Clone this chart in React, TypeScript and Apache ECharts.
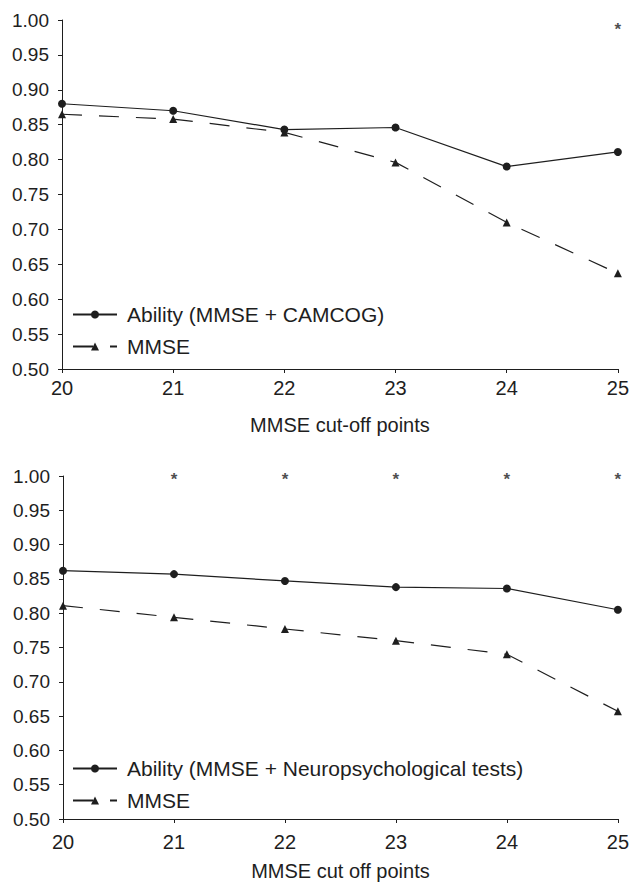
import React, { useEffect, useRef } from "react";
import * as echarts from "echarts";

const cutOffs = [20, 21, 22, 23, 24, 25];
const yMin = 0.5;
const yMax = 1.0;
const yStep = 0.05;

// Top panel
const topAbilityName = "Ability (MMSE + CAMCOG)";
const topAbility = [0.880, 0.870, 0.843, 0.846, 0.790, 0.811];
const topMmse = [0.865, 0.858, 0.839, 0.796, 0.710, 0.637];
const topStarX = [25];
const topStarY = [0.990];
const topXTitle = "MMSE cut-off points";

// Bottom panel
const botAbilityName = "Ability (MMSE + Neuropsychological tests)";
const botAbility = [0.862, 0.857, 0.847, 0.838, 0.836, 0.805];
const botMmse = [0.811, 0.794, 0.777, 0.760, 0.740, 0.657];
const botStarX = [21, 22, 23, 24, 25];
const botStarY = [1.0, 1.0, 1.0, 1.0, 1.0];
const botXTitle = "MMSE cut off points";

const INK = "#1e1e1e";
const FONT = "Liberation Sans, Arial, Helvetica, sans-serif";

function pairs(xs: number[], ys: number[]) {
  return xs.map((x, i) => [x, ys[i]]);
}

export default function App() {
  const ref = useRef<HTMLDivElement>(null);
  useEffect(() => {
    if (!ref.current) return;
    const chart = echarts.init(ref.current, null, { renderer: "svg" });

    const xAxisBase = (gridIndex: number, name: string, labelMargin: number, nameGap: number) => ({
      type: "value",
      gridIndex,
      min: 20,
      max: 25,
      interval: 1,
      name,
      nameLocation: "middle",
      nameGap,
      nameTextStyle: { fontSize: 20, color: INK, fontFamily: FONT },
      axisLine: { show: true, onZero: false, lineStyle: { color: INK, width: 1 } },
      axisTick: { show: true, inside: false, length: 4, lineStyle: { color: INK } },
      axisLabel: { fontSize: 20, color: INK, fontFamily: FONT, margin: labelMargin },
      splitLine: { show: false },
    });
    const yAxisBase = (gridIndex: number) => ({
      type: "value",
      gridIndex,
      min: yMin,
      max: yMax,
      interval: yStep,
      axisLine: { show: true, lineStyle: { color: INK, width: 1 } },
      axisTick: { show: true, inside: false, length: 4, lineStyle: { color: INK } },
      axisLabel: {
        fontSize: 19,
        color: INK,
        fontFamily: FONT,
        margin: 13,
        formatter: (v: number) => v.toFixed(2),
      },
      splitLine: { show: false },
    });

    const abilitySeries = (name: string, idx: number, ys: number[]) => ({
      type: "line",
      name,
      xAxisIndex: idx,
      yAxisIndex: idx,
      data: pairs(cutOffs, ys),
      symbol: "circle",
      symbolSize: 8,
      showAllSymbol: true,
      clip: false,
      lineStyle: { color: INK, width: 1.2, type: "solid" },
      itemStyle: { color: INK },
    });
    const mmseSeries = (idx: number, ys: number[]) => ({
      type: "line",
      name: "MMSE",
      xAxisIndex: idx,
      yAxisIndex: idx,
      data: pairs(cutOffs, ys),
      symbol: "triangle",
      symbolSize: 8,
      showAllSymbol: true,
      clip: false,
      lineStyle: { color: INK, width: 1.2, type: [20, 17] },
      itemStyle: { color: INK },
    });
    const starSeries = (idx: number, xs: number[], ys: number[]) => ({
      type: "scatter",
      name: "sig" + idx,
      xAxisIndex: idx,
      yAxisIndex: idx,
      data: pairs(xs, ys),
      symbol: "circle",
      symbolSize: 1,
      itemStyle: { color: "rgba(0,0,0,0)" },
      label: {
        show: true,
        position: "inside",
        formatter: "*",
        fontSize: 17,
        fontWeight: "bold",
        color: INK,
        fontFamily: FONT,
        offset: [0, 3],
      },
      clip: false,
    });

    const legendBase = (top: number, names: string[]) => ({
      orient: "vertical",
      left: 72,
      top,
      padding: 0,
      itemWidth: 44,
      itemHeight: 10,
      itemGap: 11,
      data: names,
      selectedMode: false,
      textStyle: { fontSize: 21, color: INK, fontFamily: FONT, padding: [0, 0, 0, 5] },
    });

    chart.setOption({
      animation: false,
      backgroundColor: "#ffffff",
      textStyle: { fontFamily: FONT },
      grid: [
        { left: 62, right: 13, top: 20, height: 349, containLabel: false },
        { left: 63, right: 14, top: 476, height: 343, containLabel: false },
      ],
      xAxis: [xAxisBase(0, topXTitle, 9, 46), xAxisBase(1, botXTitle, 13, 42)],
      yAxis: [yAxisBase(0), yAxisBase(1)],
      legend: [
        legendBase(304, [topAbilityName, "MMSE"]),
        legendBase(758, [botAbilityName, "MMSE"]),
      ],
      series: [
        abilitySeries(topAbilityName, 0, topAbility),
        mmseSeries(0, topMmse),
        starSeries(0, topStarX, topStarY),
        abilitySeries(botAbilityName, 1, botAbility),
        mmseSeries(1, botMmse),
        starSeries(1, botStarX, botStarY),
      ],
    });
    return () => chart.dispose();
  }, []);

  return (
    <div
      ref={ref}
      style={{ position: "absolute", left: 0, top: 0, width: 632, height: 882, background: "#fff" }}
    />
  );
}
